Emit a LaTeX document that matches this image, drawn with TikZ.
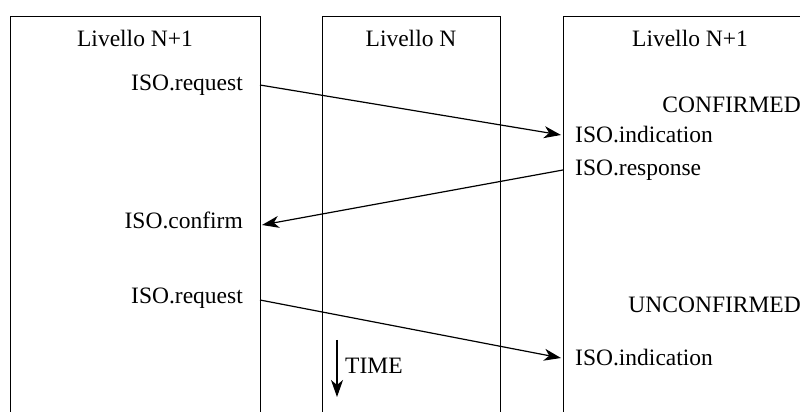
\documentclass[tikz,border=0pt]{standalone}
\usepackage{fontspec}
\setmainfont{Liberation Serif}[Ligatures=TeX]
\newfontfamily\timesfont{Liberation Serif}
\usetikzlibrary{arrows.meta}
\begin{document}
\begin{tikzpicture}[x=1pt,y=1pt,
  lbl/.style={font=\timesfont\fontsize{23.5}{27}\selectfont, inner sep=0pt},
  boxline/.style={line width=0.8pt},
  msg/.style={-{Stealth[length=17pt,width=12pt,inset=5pt]}, line width=1.2pt}]
\useasboundingbox (0,0) rectangle (800,412);
% columns
\draw[boxline] (10,0) -- (10,396) -- (260,396) -- (260,0);
\draw[boxline] (322,0) -- (322,396) -- (500,396) -- (500,0);
\draw[boxline] (563,0) -- (563,396) -- (800,396);
% headers
\node[lbl] (h1) at (135,374) {Livello N+1};
\node[lbl] (h2) at (411,374) {Livello N};
\node[lbl] (h3) at (690,374) {Livello N+1};
% labels
\node[lbl, anchor=east] (req1) at (243,327) {ISO.request};
\node[lbl, anchor=east] (conf) at (243,192) {ISO.confirm};
\node[lbl, anchor=east] (req2) at (243,114) {ISO.request};
\node[lbl, anchor=east] (cfd) at (801,307) {CONFIRMED};
\node[lbl, anchor=east] (ucfd) at (801,107) {UNCONFIRMED};
\node[lbl, anchor=west] (ind1) at (575,277) {ISO.indication};
\node[lbl, anchor=west] (resp) at (575,242) {ISO.response};
\node[lbl, anchor=west] (ind2) at (575,54) {ISO.indication};
% connector end points on column edges
\coordinate (a1) at (260,327);
\coordinate (b1) at (561,277);
\coordinate (a2) at (563,242);
\coordinate (b2) at (262,187);
\coordinate (a3) at (260,112);
\coordinate (b3) at (561,54);
\draw[msg] (a1) -- (b1);
\draw[msg] (a2) -- (b2);
\draw[msg] (a3) -- (b3);
% time
\coordinate (t0) at (337,72);
\coordinate (t1) at (337,15);
\draw[msg] (t0) -- (t1);
\node[lbl, anchor=west] (time) at (345,46) {TIME};
\end{tikzpicture}
\end{document}
